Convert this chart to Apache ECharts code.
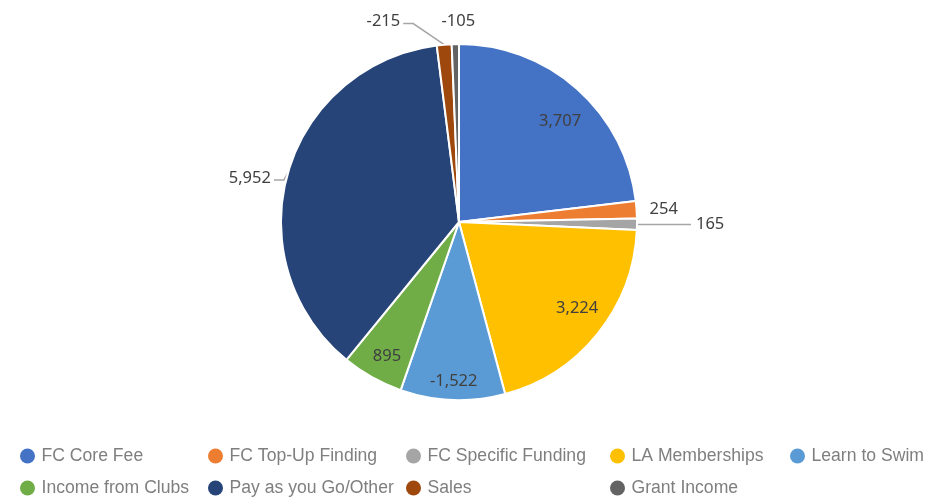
<!DOCTYPE html>
<html>
<head>
<meta charset="UTF-8">
<title>Income pie</title>
<script src="https://cdn.jsdelivr.net/npm/echarts@6/dist/echarts.min.js"></script>
<style>
  html, body { margin: 0; padding: 0; background: #fff; }
  #chart { width: 946px; height: 499px; }
</style>
</head>
<body>
<div id="chart"></div>
<script>
// data (labels keep sign, slices use size)
var names = ['FC Core Fee', 'FC Top-Up Finding', 'FC Specific Funding', 'LA Memberships',
             'Learn to Swim', 'Income from Clubs', 'Pay as you Go/Other', 'Sales', 'Grant Income'];
var values = [3707, 254, 165, 3224, -1522, 895, 5952, -215, -105];
var colors = ['#4472C4', '#ED7D31', '#A5A5A5', '#FFC000', '#5B9BD5', '#70AD47', '#264478', '#9E480E', '#636363'];
var insideLabel = [true, false, false, true, true, true, false, false, false];

// outside label lines: [length, length2, show]
var lineSpec = [null, [4, 4, false], [2, 52, true], null, null, null, [3, 14, true], [20, 32, true], [0, 0, false]];
// elbow lines drawn like Excel: [bend dx, bend dy, tail length] from the rim point
var elbow = { 6: [-4, 7, 10], 7: [-31, -21, 10] };
// small nudges for the inside labels
var insideNudge = [[3, 10], null, null, [3, -6], [0, 12], [0, 5]];

// legend grid: column x, row y
var legendLeft = [20, 208, 406, 610, 790, 20, 208, 406, 610];
var legendTop  = [447, 447, 447, 447, 447, 479, 479, 479, 479];

var CX = 459, CY = 222, R = 178;

var chart = echarts.init(document.getElementById('chart'));

var pieData = names.map(function (n, i) {
  var item = { name: n, value: Math.abs(values[i]), signed: values[i], itemStyle: { color: colors[i] } };
  if (insideLabel[i]) {
    item.label = { position: 'inside' };
  } else {
    var s = lineSpec[i];
    item.labelLine = { show: s[2], length: s[0], length2: s[1] };
  }
  return item;
});

var legends = names.map(function (n, i) {
  return {
    data: [n],
    left: legendLeft[i],
    top: legendTop[i],
    padding: 0,
    icon: 'circle',
    itemWidth: 18,
    itemHeight: 15,
    itemGap: 0,
    itemStyle: { borderWidth: 0 },
    selectedMode: false,
    textStyle: { color: '#7f7f7f', fontSize: 17.6, fontFamily: 'Liberation Sans' }
  };
});

chart.setOption({
  animation: false,
  legend: legends,
  series: [{
    type: 'pie',
    center: [CX, CY],
    radius: [0, R],
    startAngle: 90,
    clockwise: true,
    avoidLabelOverlap: false,
    data: pieData,
    itemStyle: { borderColor: '#fff', borderWidth: 2 },
    label: {
      show: true,
      position: 'outside',
      color: '#404040',
      fontSize: 16.5,
      fontFamily: 'Noto Sans',
      formatter: function (p) {
        return p.data.signed.toLocaleString('en-US');
      }
    },
    labelLine: {
      show: true,
      lineStyle: { color: '#a6a6a6', width: 1.5 }
    },
    labelLayout: function (p) {
      var i = p.dataIndex;
      var lr = p.labelRect;
      if (insideLabel[i]) {
        // push inside labels out towards the rim, as Excel does
        var lx = lr.x + lr.width / 2, ly = lr.y + lr.height / 2;
        var vx = lx - CX, vy = ly - CY, d = Math.sqrt(vx * vx + vy * vy);
        var k = 0.83 * R / d - 1;
        var nd = insideNudge[i] || [0, 0];
        return { dx: vx * k + nd[0], dy: vy * k + nd[1] };
      }
      if (i === 8) {
        // small slice at the top: label centred above it
        return { x: p.rect.x + p.rect.width / 2 + 3, y: p.rect.y - 22, align: 'center', verticalAlign: 'middle' };
      }
      if (elbow[i] && p.labelLinePoints) {
        var e = elbow[i];
        var a = p.labelLinePoints[0];
        var b = [a[0] + e[0], a[1] + e[1]];
        var c = [b[0] - e[2], b[1]];
        return {
          x: c[0] - 3, y: c[1] - 2, align: 'right', verticalAlign: 'middle',
          labelLinePoints: [a, b, c]
        };
      }
      return {};
    },
    emphasis: { disabled: true }
  }]
});
</script>
</body>
</html>
